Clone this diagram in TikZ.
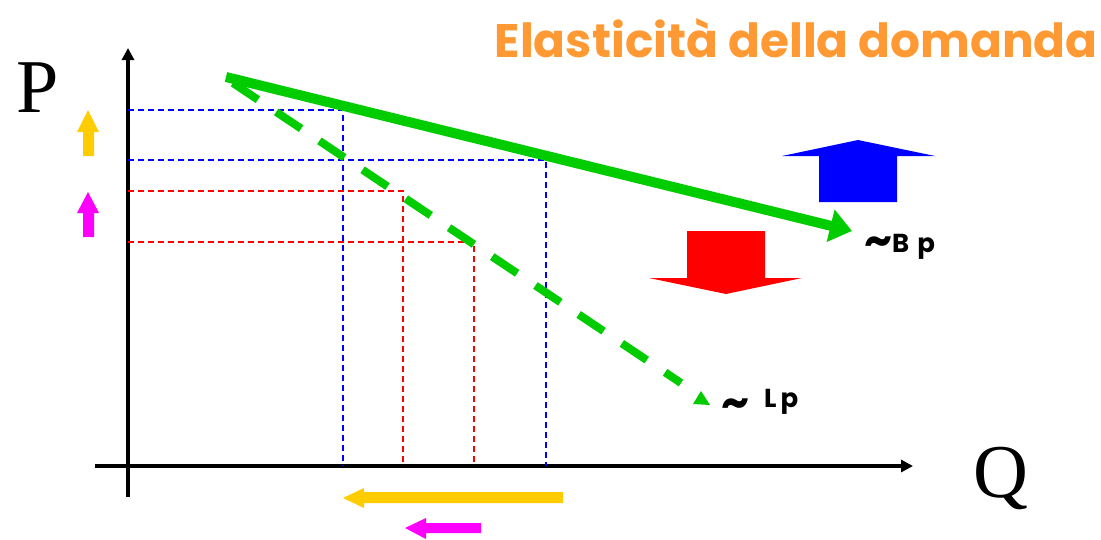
\documentclass[tikz,border=0pt]{standalone}
\usepackage{fontspec}
\setmainfont{Liberation Serif}
\newfontfamily\gothic{Poppins}
\usetikzlibrary{arrows.meta}
\definecolor{cgreen}{HTML}{00CC00}
\definecolor{corange}{HTML}{FF9933}
\definecolor{cyellow}{HTML}{FFCC00}
\definecolor{cmagenta}{HTML}{FF00FF}
\begin{document}
\begin{tikzpicture}[x=1pt,y=-1pt,
  axis/.style={line width=4.5pt,-{Triangle[length=12pt,width=12pt]}},
  bdash/.style={blue,line width=1.3pt,dash pattern=on 6pt off 4pt},
  rdash/.style={red,line width=1.3pt,dash pattern=on 6pt off 4pt},
  lbl/.style={inner sep=0pt,anchor=base west,font=\gothic\bfseries\fontsize{26}{28}\selectfont},
  tld/.style={inner sep=0pt,anchor=base west,font=\gothic\bfseries\fontsize{44}{46}\selectfont},
  bigl/.style={inner sep=0pt,font=\fontsize{76}{80}\selectfont}]
\useasboundingbox (0,0) rectangle (1101,539);
% axes
\coordinate (ybot) at (128,497);
\coordinate (ytop) at (128,48);
\coordinate (xl) at (95,466);
\coordinate (xr) at (913,466);
\draw[axis] (ybot) -- (ytop);
\draw[axis] (xl) -- (xr);
\node[bigl] (P) at (38,88) {P};
\node[bigl] (Q) at (1001,478) {Q};
% blue dashed guides
\draw[bdash] (128,110) -- (343,110) -- (343,466);
\draw[bdash] (128,160) -- (546,160) -- (546,466);
% red dashed guides
\draw[rdash] (128,191) -- (403,191) -- (403,466);
\draw[rdash] (128,242) -- (474,242) -- (474,466);
% dashed green (elastic)
\coordinate (ls) at (233,83);
\coordinate (le) at (681,383);
\draw[cgreen,line width=8pt,dash pattern=on 30pt off 22pt] (ls) -- (le);
\fill[cgreen] (693,404) -- (701,391) -- (710,405) -- cycle;
% solid green (rigid)
\coordinate (bs) at (226,77);
\coordinate (be) at (852,231);
\draw[cgreen,line width=10pt,-{Triangle[length=22pt,width=32pt]}] (bs) -- (be);
% labels
\node[tld] (Bt) at (864,255) {\char"007E};
\node[lbl] (Bp) at (892,252) {B\hspace{8pt}p};
\node[tld] (Lt) at (721,417) {\char"007E};
\node[lbl] (Lp) at (764,407) {L\hspace{4pt}p};
% block arrows
\fill[blue] (819,202) -- (819,156) -- (782,156) -- (858,140) -- (935,156) -- (897,156) -- (897,202) -- cycle;
\fill[red] (687,231) -- (687,278) -- (649,278) -- (726,294) -- (802,278) -- (765,278) -- (765,231) -- cycle;
% small arrows on P axis
\fill[cyellow] (83,156) -- (83,132) -- (77,132) -- (88,110) -- (99,132) -- (94,132) -- (94,156) -- cycle;
\fill[cmagenta] (83,237) -- (83,213) -- (77,213) -- (88,192) -- (99,213) -- (94,213) -- (94,237) -- cycle;
% horizontal arrows under Q axis
\fill[cyellow] (563,492) -- (364,492) -- (364,488) -- (343,498) -- (364,508) -- (364,503) -- (563,503) -- cycle;
\fill[cmagenta] (481,523) -- (426,523) -- (426,518) -- (405,528) -- (426,539) -- (426,533) -- (481,533) -- cycle;
% title
\node[inner sep=0pt,anchor=base east,text=corange,font=\gothic\bfseries\fontsize{47}{51}\selectfont] (title) at (1098,57) {Elasticità della domanda};
\end{tikzpicture}
\end{document}
